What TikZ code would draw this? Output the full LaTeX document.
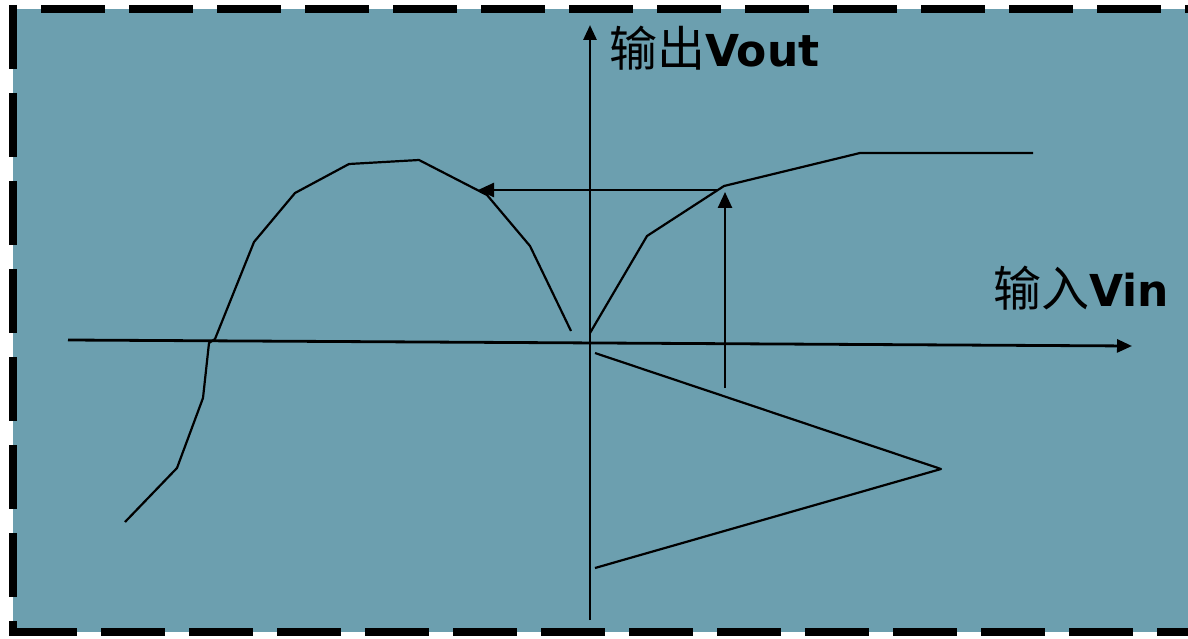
\documentclass[tikz,border=0pt]{standalone}
\usepackage{fontspec}
\newfontfamily\cjk{Noto Sans CJK SC}
\newfontfamily\labfont{DejaVu Sans}
\usetikzlibrary{arrows.meta,positioning}
\definecolor{panelteal}{RGB}{108,159,175}
\tikzset{
  axis/.style={line width=2.8pt, -{Triangle[length=15pt,width=13pt]}},
  curve/.style={line width=2.2pt, line join=round},
  probe/.style={line width=2.5pt, -{Triangle[length=16pt,width=14pt]}},
  frame/.style={line width=8pt, dash pattern=on 64pt off 24pt},
  axislabel/.style={font=\fontsize{44}{52}\selectfont, inner sep=0pt, anchor=base west},
}
\newcommand\cjklab[1]{{\fontsize{48}{52}\selectfont\cjk #1}}

\begin{document}
\begin{tikzpicture}[x=1pt, y=-1pt]
  \useasboundingbox (0,0) rectangle (1188,639);

  % panel and dashed frame
  \fill[panelteal] (13,9) rectangle (1200,632);
  \draw[frame] (13,5) -- (13,636);
  \draw[frame, dash phase=84pt] (9,632) -- (1200,632);
  \draw[frame, dash phase=60pt] (13,9) -- (1200,9);

  % axes
  \coordinate (xl) at (68,340);
  \coordinate (xr) at (1132,346);
  \coordinate (yb) at (590,620);
  \coordinate (yt) at (590,25);
  \draw[axis] (xl) -- (xr);
  \draw[axis] (yb) -- (yt);

  \node[axislabel] (vout) at (609,67) {\cjklab{输出}{\labfont\bfseries Vout}};
  \node[axislabel] (vin) at (993,306) {\cjklab{输入}{\labfont\bfseries Vin}};

  % input curve (left)
  \draw[curve] (125,522) -- (177,468) -- (203,398) -- (209,343) -- (215,339)
    -- (254,242) -- (295,193) -- (349,164) -- (419,160) -- (487,195)
    -- (530,246) -- (571,331);

  % transfer curve (right)
  \draw[curve] (590,333) -- (647,236) -- (724,186) -- (860,153) -- (1033,153);

  % triangle input
  \draw[curve] (595,353) -- (941,469) -- (595,568);

  % mapping arrows
  \coordinate (pin) at (725,388);
  \coordinate (pout) at (725,190);
  \coordinate (pleft) at (478,190);
  \draw[probe] (pin) -- ([yshift=-2pt]pout);
  \draw[probe] (718,190) -- (pleft);
\end{tikzpicture}
\end{document}
